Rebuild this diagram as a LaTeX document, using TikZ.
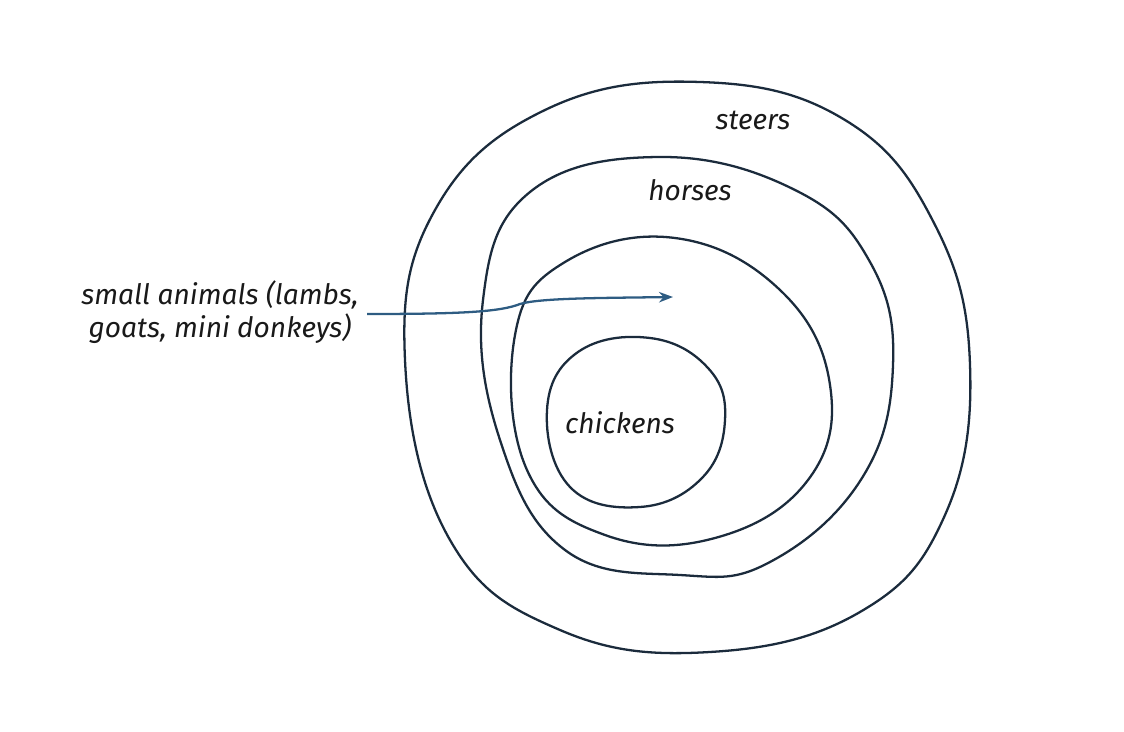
\documentclass[tikz,border=0pt]{standalone}
\usepackage{fontspec}
\usetikzlibrary{arrows.meta}
\setmainfont{Fira Sans}
\definecolor{ink}{HTML}{1B2B3C}
\definecolor{arrblue}{HTML}{2E5C82}
\begin{document}
\begin{tikzpicture}[x=0.02cm,y=-0.02cm,
  ring/.style={draw=ink, line width=1.3pt},
  lbl/.style={font=\fontsize{16}{19}\selectfont\itshape, text=black!90, inner sep=0pt},
  arr/.style={draw=arrblue, line width=1.3pt, -{Stealth[length=8pt,width=6pt]}}]
\useasboundingbox (0,0) rectangle (1124,732);
\draw[ring] plot[smooth cycle, tension=0.7] coordinates {(405,360)(435,210)(545,110)(700,82)(845,120)(935,225)(970,365)(945,515)(860,612)(710,652)(560,630)(450,540)};
\draw[ring] plot[smooth cycle, tension=0.7] coordinates {(483,300)(530,192)(660,157)(795,190)(870,262)(893,365)(862,478)(770,562)(680,575)(565,550)(500,440)};
\draw[ring] plot[smooth cycle, tension=0.7] coordinates {(515,335)(565,262)(675,238)(780,290)(830,385)(808,480)(715,538)(605,535)(527,470)};
\draw[ring] plot[smooth cycle, tension=0.7] coordinates {(547,410)(578,352)(650,338)(708,368)(725,420)(702,478)(640,507)(570,487)};
\node[lbl] (steers) at (753,120) {steers};
\node[lbl] (horses) at (690,190) {horses};
\node[lbl] (chickens) at (620,423) {chickens};
\node[lbl, align=center] (small) at (220,312) {small animals (lambs,\\goats, mini donkeys)};
\coordinate (tip) at (673,297);
\draw[arr] (small.east) ++(8,2) .. controls (460,314) and (500,312) .. (520,304) .. controls (540,298) and (600,298) .. (tip);
\end{tikzpicture}
\end{document}
